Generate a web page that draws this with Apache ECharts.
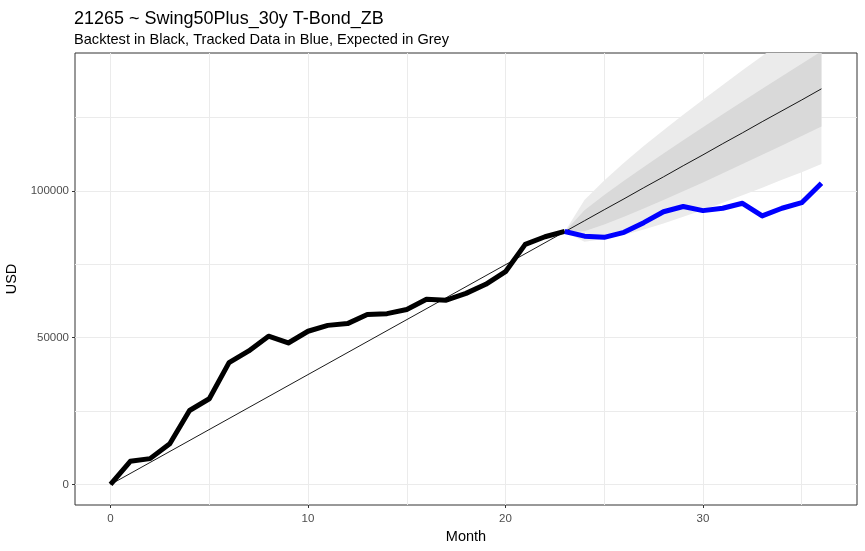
<!DOCTYPE html>
<html>
<head>
<meta charset="utf-8">
<script src="https://cdn.jsdelivr.net/npm/echarts@6/dist/echarts.min.js"></script>
<style>
  html, body { margin: 0; padding: 0; background: #fff; }
  #chart { width: 865px; height: 551px; }
</style>
</head>
<body>
<div id="chart"></div>
<script>
// backtest, months 0..23
const backtestMonths = [0, 1, 2, 3, 4, 5, 6, 7, 8, 9, 10, 11, 12, 13, 14, 15, 16, 17, 18, 19, 20, 21, 22, 23]
const backtest = [0, 7900, 8800, 13900, 25200, 29200, 41500, 45500, 50500, 48200, 52200, 54200,
  54800, 57900, 58200, 59600, 63100, 62800, 65100, 68200, 72500, 81800, 84400, 86200]

// tracked, months 23..36
const trackedMonths = [23, 24, 25, 26, 27, 28, 29, 30, 31, 32, 33, 34, 35, 36]
const tracked = [86200, 84600, 84200, 85900, 89200, 92900, 94700, 93300, 94100, 95800, 91500, 94100, 96000, 102600]

// expected line and bands
const expectedMonths = [0, 23, 24, 25, 26, 27, 28, 29, 30, 31, 32, 33, 34, 35, 36]
const expected = [0, 86100, 89850, 93600, 97300, 101100, 104800, 108600, 112300, 116100, 119800, 123600, 127300, 131000, 134800]
const bandMonths = [23, 24, 25, 26, 27, 28, 29, 30, 31, 32, 33, 34, 35, 36]
const innerLow = [86100, 86300, 88600, 91200, 94000, 96900, 99900, 102900, 106000, 109200, 112300, 115500, 118700, 122000]
const innerHigh = [86100, 93400, 98600, 103500, 108200, 112800, 117300, 121700, 126100, 130500, 134800, 139100, 143300, 147600]
const outerLow = [86100, 82700, 83600, 85000, 86900, 88900, 91200, 93500, 96000, 98500, 101100, 103800, 106400, 109200]
const outerHigh = [86100, 96900, 103600, 109600, 115300, 120700, 126000, 131100, 136100, 141100, 146000, 150800, 155600, 160400]

// tick values
const xGrid = [0, 5, 10, 15, 20, 25, 30, 35]
const xLabels = [0, 10, 20, 30]
const yGrid = [0, 25000, 50000, 75000, 100000, 125000]
const yLabels = [0, 50000, 100000]

const pairs = (xs, ys) => xs.map((x, i) => [x, ys[i]])

const chart = echarts.init(document.getElementById('chart'))

const font = 'Liberation Sans, Arial, sans-serif'
const gridLine = { show: true, lineStyle: { color: '#ebebeb', width: 1 } }

// ribbon between lo and hi, drawn as one polygon through the axes
const ribbon = (name, lo, hi, color) => ({
  name, type: 'custom', silent: true, clip: true,
  data: [[bandMonths[0], lo[0]]],
  renderItem: (params, api) => {
    const top = bandMonths.map((m, i) => api.coord([m, hi[i]]))
    const bottom = bandMonths.map((m, i) => api.coord([m, lo[i]])).reverse()
    return {
      type: 'polygon',
      shape: { points: top.concat(bottom) },
      style: { fill: color, stroke: null }
    }
  }
})

const option = {
  animation: false,
  backgroundColor: '#fff',
  title: {
    text: '21265 ~ Swing50Plus_30y T-Bond_ZB',
    subtext: 'Backtest in Black, Tracked Data in Blue, Expected in Grey',
    left: 69, top: 5, itemGap: 4,
    textStyle: { fontFamily: font, fontSize: 18, fontWeight: 'normal', color: '#000' },
    subtextStyle: { fontFamily: font, fontSize: 14.6, color: '#000' }
  },
  grid: {
    left: 75, right: 8, top: 53, bottom: 46,
    outerBoundsMode: 'none', containLabel: false,
    show: true, borderColor: '#333', borderWidth: 1, backgroundColor: 'transparent'
  },
  xAxis: [
    {
      type: 'value', min: -1.8, max: 37.8,
      axisLine: { show: false, onZero: false },
      axisTick: { show: false, customValues: xGrid },
      axisLabel: { show: false },
      splitLine: gridLine
    },
    {
      type: 'value', min: -1.8, max: 37.8, position: 'bottom',
      name: 'Month', nameLocation: 'middle', nameGap: 24,
      nameTextStyle: { fontFamily: font, fontSize: 14.5, color: '#000' },
      axisLine: { show: false, onZero: false },
      axisTick: { show: true, length: 3, customValues: xLabels, lineStyle: { color: '#333' } },
      axisLabel: { customValues: xLabels, margin: 8, fontFamily: font, fontSize: 11.5, color: '#4d4d4d' },
      splitLine: { show: false }
    }
  ],
  yAxis: [
    {
      type: 'value', min: -7000, max: 147000,
      axisLine: { show: false, onZero: false },
      axisTick: { show: false, customValues: yGrid },
      axisLabel: { show: false },
      splitLine: gridLine
    },
    {
      type: 'value', min: -7000, max: 147000, position: 'left',
      name: 'USD', nameLocation: 'middle', nameGap: 49, nameRotate: 90,
      nameTextStyle: { fontFamily: font, fontSize: 14.5, color: '#000' },
      axisLine: { show: false, onZero: false },
      axisTick: { show: true, length: 3, customValues: yLabels, lineStyle: { color: '#333' } },
      axisLabel: {
        customValues: yLabels, margin: 6, fontFamily: font, fontSize: 11.5, color: '#4d4d4d',
        formatter: v => String(v)
      },
      splitLine: { show: false }
    }
  ],
  series: [
    ribbon('outer', outerLow, outerHigh, '#ebebeb'),
    ribbon('inner', innerLow, innerHigh, '#d9d9d9'),
    {
      name: 'Expected', type: 'line', data: pairs(expectedMonths, expected), symbol: 'none',
      lineStyle: { color: '#000', width: 0.9 }
    },
    {
      name: 'Backtest', type: 'line', data: pairs(backtestMonths, backtest), symbol: 'none',
      lineStyle: { color: '#000', width: 5, cap: 'butt', join: 'round' }
    },
    {
      name: 'Tracked', type: 'line', data: pairs(trackedMonths, tracked), symbol: 'none',
      lineStyle: { color: '#0000ff', width: 5, cap: 'butt', join: 'round' }
    }
  ]
}

chart.setOption(option)
</script>
</body>
</html>
